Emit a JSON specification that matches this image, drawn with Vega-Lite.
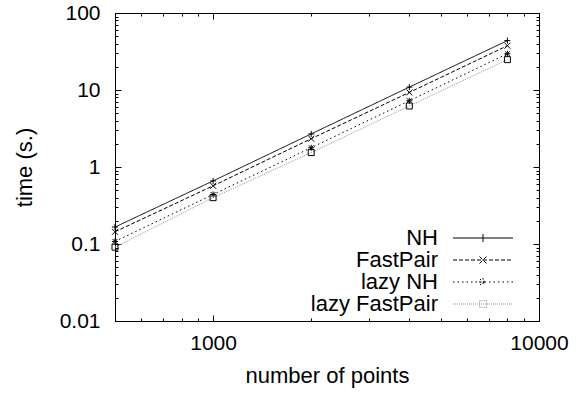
{
  "$schema": "https://vega.github.io/schema/vega-lite/v6.json",
  "width": 424,
  "height": 308,
  "autosize": {"type": "none"},
  "padding": {"left": 115, "top": 13, "right": 45, "bottom": 75},
  "config": {
    "font": "Liberation Sans",
    "view": {"stroke": "black", "strokeWidth": 1},
    "axis": {
      "grid": false,
      "domainColor": "black",
      "tickColor": "black",
      "labelColor": "black",
      "titleColor": "black",
      "labelFont": "Liberation Sans",
      "titleFont": "Liberation Sans",
      "labelFontSize": 21,
      "titleFontSize": 22,
      "titleFontWeight": "normal",
      "labelOverlap": false,
      "labelFlush": false
    },
    "legend": {"labelFont": "Liberation Sans", "labelFontSize": 22, "labelColor": "black"}
  },
  "data": {
    "values": [
      {"series": "NH", "n": 500, "time": 0.166},
      {"series": "NH", "n": 1000, "time": 0.66},
      {"series": "NH", "n": 2000, "time": 2.69},
      {"series": "NH", "n": 4000, "time": 10.9},
      {"series": "NH", "n": 8000, "time": 43.8},
      {"series": "FastPair", "n": 500, "time": 0.144},
      {"series": "FastPair", "n": 1000, "time": 0.57},
      {"series": "FastPair", "n": 2000, "time": 2.33},
      {"series": "FastPair", "n": 4000, "time": 9.3},
      {"series": "FastPair", "n": 8000, "time": 37.6},
      {"series": "lazy NH", "n": 500, "time": 0.108},
      {"series": "lazy NH", "n": 1000, "time": 0.44},
      {"series": "lazy NH", "n": 2000, "time": 1.78},
      {"series": "lazy NH", "n": 4000, "time": 7.25},
      {"series": "lazy NH", "n": 8000, "time": 29.6},
      {"series": "lazy FastPair", "n": 500, "time": 0.091},
      {"series": "lazy FastPair", "n": 1000, "time": 0.40},
      {"series": "lazy FastPair", "n": 2000, "time": 1.54},
      {"series": "lazy FastPair", "n": 4000, "time": 6.2},
      {"series": "lazy FastPair", "n": 8000, "time": 24.8}
    ]
  },
  "layer": [
    {
      "mark": {"type": "line", "strokeWidth": 1},
      "encoding": {
        "x": {
          "field": "n", "type": "quantitative",
          "scale": {"type": "log", "domain": [500, 10000], "nice": false},
          "axis": {
            "orient": "bottom",
            "values": [500, 600, 700, 800, 900, 1000, 2000, 3000, 4000, 5000, 6000, 7000, 8000, 9000, 10000],
            "labelExpr": "(datum.value == 1000 || datum.value == 10000) ? format(datum.value, 'd') : ''",
            "tickSize": {"condition": {"test": "datum.value == 1000 || datum.value == 10000", "value": -6}, "value": -3},
            "labelPadding": 17,
            "title": "number of points",
            "titleY": 54,
            "titleBaseline": "middle"
          }
        },
        "y": {
          "field": "time", "type": "quantitative",
          "scale": {"type": "log", "domain": [0.01, 100], "nice": false},
          "axis": {
            "orient": "left",
            "values": [0.01, 0.02, 0.03, 0.04, 0.05, 0.06, 0.07, 0.08, 0.09, 0.1, 0.2, 0.3, 0.4, 0.5, 0.6, 0.7, 0.8, 0.9, 1, 2, 3, 4, 5, 6, 7, 8, 9, 10, 20, 30, 40, 50, 60, 70, 80, 90, 100],
            "labelExpr": "abs(log(datum.value)/LN10 - round(log(datum.value)/LN10)) < 1e-6 ? format(datum.value, '~g') : ''",
            "tickSize": {"condition": {"test": "abs(log(datum.value)/LN10 - round(log(datum.value)/LN10)) < 1e-6", "value": -6}, "value": -3},
            "labelPadding": 21,
            "title": "time (s.)",
            "titleX": -91,
            "titleY": 154,
            "titleAlign": "center",
            "titleBaseline": "middle"
          }
        },
        "color": {
          "field": "series", "type": "nominal",
          "scale": {"domain": ["NH", "FastPair", "lazy NH", "lazy FastPair"], "range": ["black", "black", "black", "#999999"]},
          "legend": {
            "title": null,
            "orient": "none",
            "legendX": 357,
            "legendY": 214,
            "symbolSize": 400,
            "symbolStrokeWidth": 1,
            "rowPadding": 0,
            "encode": {
              "symbols": {
                "update": {
                  "shape": {"signal": "datum.value == 'NH' ? 'M-3,0H3M0,-0.4V0.4' : datum.value == 'FastPair' ? 'M-3,0H3M-0.35,-0.35L0.35,0.35M-0.35,0.35L0.35,-0.35' : datum.value == 'lazy NH' ? 'M-3,0H3M-0.4,0H0.4M0,-0.4V0.4M-0.3,-0.3L0.3,0.3M-0.3,0.3L0.3,-0.3' : 'M-3,0H3M-0.35,-0.35H0.35V0.35H-0.35Z'"}
                }
              },
              "labels": {
                "update": {
                  "x": {"value": -34},
                  "align": {"value": "right"}
                }
              }
            }
          }
        },
        "strokeDash": {
          "field": "series", "type": "nominal",
          "scale": {"domain": ["NH", "FastPair", "lazy NH", "lazy FastPair"], "range": [[1, 0], [4, 2], [1.5, 3], [1, 1]]},
          "legend": {"title": null}
        }
      }
    },
    {
      "encoding": {
        "x": {
          "field": "n", "type": "quantitative",
          "axis": {
            "orient": "top",
            "values": [500, 600, 700, 800, 900, 1000, 2000, 3000, 4000, 5000, 6000, 7000, 8000, 9000, 10000],
            "labels": false,
            "title": null,
            "tickSize": {"condition": {"test": "datum.value == 1000 || datum.value == 10000", "value": -6}, "value": -3}
          }
        },
        "y": {
          "field": "time", "type": "quantitative",
          "axis": {
            "orient": "right",
            "values": [0.01, 0.02, 0.03, 0.04, 0.05, 0.06, 0.07, 0.08, 0.09, 0.1, 0.2, 0.3, 0.4, 0.5, 0.6, 0.7, 0.8, 0.9, 1, 2, 3, 4, 5, 6, 7, 8, 9, 10, 20, 30, 40, 50, 60, 70, 80, 90, 100],
            "labels": false,
            "title": null,
            "tickSize": {"condition": {"test": "abs(log(datum.value)/LN10 - round(log(datum.value)/LN10)) < 1e-6", "value": -6}, "value": -3}
          }
        }
      },
      "layer": [
        {
          "transform": [{"filter": "datum.series == 'NH'"}],
          "mark": {"type": "point", "shape": "M-1,0H1M0,-1V1", "filled": false, "size": 36, "strokeWidth": 1, "color": "black", "opacity": 1}
        },
        {
          "transform": [{"filter": "datum.series == 'FastPair'"}],
          "mark": {"type": "point", "shape": "M-1,-1L1,1M-1,1L1,-1", "filled": false, "size": 36, "strokeWidth": 1, "color": "black", "opacity": 1}
        },
        {
          "transform": [{"filter": "datum.series == 'lazy NH'"}],
          "mark": {"type": "point", "shape": "M-1,0H1M0,-1V1M-0.8,-0.8L0.8,0.8M-0.8,0.8L0.8,-0.8", "filled": false, "size": 36, "strokeWidth": 1, "color": "black", "opacity": 1}
        },
        {
          "transform": [{"filter": "datum.series == 'lazy FastPair'"}],
          "mark": {"type": "point", "shape": "square", "filled": false, "size": 36, "strokeWidth": 1, "color": "black", "opacity": 1}
        }
      ]
    }
  ],
  "resolve": {"axis": {"x": "independent", "y": "independent"}}
}
